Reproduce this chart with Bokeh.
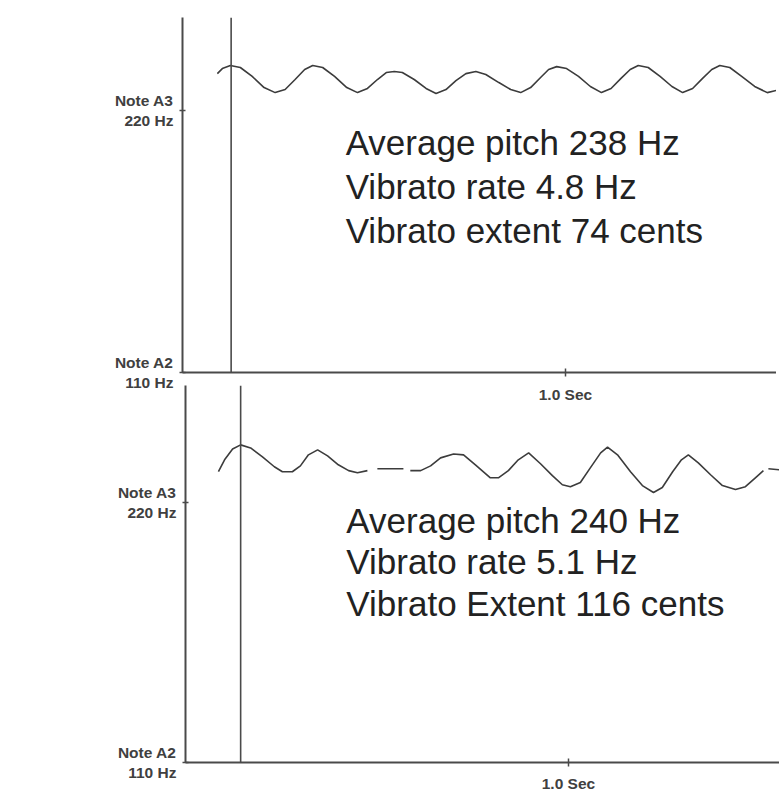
from bokeh.plotting import figure
from bokeh.layouts import column
from bokeh.models import Range1d, FixedTicker, Span
from bokeh.core.properties import value
from bokeh.embed import file_html
from bokeh.resources import INLINE

nan = float("nan")

# ---------------- data ----------------
# time in seconds, pitch in cents relative to Note A3 (220 Hz); Note A2 (110 Hz) = -1200
top_time = [0.091, 0.104, 0.125, 0.151, 0.182, 0.213, 0.242, 0.268, 0.294, 0.319,
            0.340, 0.366, 0.397, 0.429, 0.457, 0.483, 0.509, 0.532, 0.553, 0.574,
            0.605, 0.636, 0.662, 0.688, 0.714, 0.740, 0.766, 0.792, 0.826, 0.857,
            0.883, 0.909, 0.935, 0.956, 0.977, 1.003, 1.034, 1.065, 1.094, 1.119,
            1.145, 1.169, 1.190, 1.216, 1.247, 1.278, 1.306, 1.332, 1.358, 1.382,
            1.403, 1.429, 1.460, 1.494, 1.527, 1.551]
top_cents = [169, 192, 206, 197, 156, 105, 82, 96, 142, 188,
             206, 197, 156, 105, 82, 101, 142, 174, 179, 174,
             142, 101, 78, 96, 137, 169, 179, 165, 128, 96,
             82, 105, 151, 188, 201, 192, 156, 110, 82, 101,
             147, 188, 206, 197, 156, 110, 82, 101, 147, 188,
             206, 197, 156, 110, 82, 92]

bottom_time = [0.086, 0.102, 0.123, 0.144, 0.170, 0.201, 0.232, 0.253, 0.279, 0.300,
               0.321, 0.345, 0.371, 0.399, 0.426, 0.449, 0.475, nan, 0.501, 0.569,
               nan, 0.587, 0.614, 0.640, 0.666, 0.700, 0.726, 0.757, 0.796, 0.817,
               0.843, 0.869, 0.896, 0.927, 0.958, 0.984, 1.005, 1.031, 1.057, 1.084,
               1.102, 1.128, 1.162, 1.193, 1.222, 1.245, 1.272, 1.295, 1.313, 1.339,
               1.371, 1.402, 1.436, 1.462, 1.488, 1.509, nan, 1.522, 1.551]
bottom_cents = [142, 197, 247, 266, 252, 211, 165, 142, 142, 169,
                220, 243, 215, 174, 147, 137, 147, nan, 156, 156,
                nan, 147, 147, 169, 206, 224, 220, 174, 114, 114,
                147, 197, 229, 179, 124, 82, 73, 92, 160, 229,
                256, 220, 142, 78, 46, 69, 142, 197, 220, 183,
                128, 78, 60, 73, 114, 147, nan, 156, 151]

top_marker_time = 0.127
bottom_marker_time = 0.144

y_tick_cents = [-1200, 0]
y_tick_labels = ["Note A2\n110 Hz", "Note A3\n220 Hz"]
x_tick_sec = [1.0]
x_tick_labels = ["1.0 Sec"]

top_notes = ["Average pitch 238 Hz", "Vibrato rate 4.8 Hz", "Vibrato extent 74 cents"]
bottom_notes = ["Average pitch 240 Hz", "Vibrato rate 5.1 Hz", "Vibrato Extent 116 cents"]

# ---------------- layout / style ----------------
TOP_NOTE_X = 0.426
TOP_NOTE_Y = [-146, -348, -549]
BOT_NOTE_X = 0.420
BOT_NOTE_Y = [-82, -274, -467]

AXIS_COLOR = "#4a4a4a"
LINE_COLOR = "#3c3c3c"
TICK_FONT = "Liberation Sans"


def style_panel(p, x_standoff):
    p.xgrid.visible = False
    p.ygrid.visible = False
    p.outline_line_color = None
    p.background_fill_alpha = 0
    p.border_fill_alpha = 0

    p.yaxis.ticker = FixedTicker(ticks=y_tick_cents)
    p.yaxis.major_label_overrides = dict(zip(y_tick_cents, y_tick_labels))
    p.xaxis.ticker = FixedTicker(ticks=x_tick_sec)
    p.xaxis.major_label_overrides = dict(zip(x_tick_sec, x_tick_labels))

    for ax in (p.xaxis, p.yaxis):
        ax.axis_line_color = AXIS_COLOR
        ax.axis_line_width = 2
        ax.major_tick_line_color = AXIS_COLOR
        ax.major_tick_line_width = 1.5
        ax.minor_tick_line_color = None
        ax.major_label_text_font = TICK_FONT
        ax.major_label_text_font_style = "bold"
        ax.major_label_text_font_size = "15.5px"
        ax.major_label_text_color = "#404040"
    p.yaxis.major_tick_in = 3
    p.yaxis.major_tick_out = 3
    p.yaxis.major_label_standoff = 6
    p.xaxis.major_tick_in = 4
    p.xaxis.major_tick_out = 4
    p.xaxis.major_label_standoff = x_standoff


# top panel (shifted 3px left so its frame starts slightly left of the lower one)
p1 = figure(width=782, height=408,
            x_range=Range1d(0, 1.551), y_range=Range1d(-1200, 426),
            output_backend="svg", toolbar_location=None,
            min_border_left=185, min_border_right=0,
            min_border_top=17, min_border_bottom=36,
            margin=(0, 0, 0, -3))
style_panel(p1, 9)
p1.line(top_time, top_cents, line_color=LINE_COLOR, line_width=1.6)
p1.add_layout(Span(location=top_marker_time, dimension="height",
                   line_color=AXIS_COLOR, line_width=1.6))
p1.text(x=[TOP_NOTE_X] * len(top_notes), y=TOP_NOTE_Y, text=top_notes,
        text_font=value("Liberation Sans"), text_font_size="35px",
        text_color="#222222", text_align="left", text_baseline="alphabetic")

# bottom panel
p2 = figure(width=779, height=419,
            x_range=Range1d(0, 1.551), y_range=Range1d(-1200, 540),
            output_backend="svg", toolbar_location=None,
            min_border_left=185, min_border_right=0,
            min_border_top=10, min_border_bottom=29,
            margin=(-33, 0, 0, 0))
style_panel(p2, 8)
p2.line(bottom_time, bottom_cents, line_color=LINE_COLOR, line_width=1.6)
p2.add_layout(Span(location=bottom_marker_time, dimension="height",
                   line_color=AXIS_COLOR, line_width=1.6))
p2.text(x=[BOT_NOTE_X] * len(bottom_notes), y=BOT_NOTE_Y, text=bottom_notes,
        text_font=value("Liberation Sans"), text_font_size="35px",
        text_color="#222222", text_align="left", text_baseline="alphabetic")

layout = column(p1, p2, spacing=0)
open("out.html", "w").write(file_html(layout, INLINE))
